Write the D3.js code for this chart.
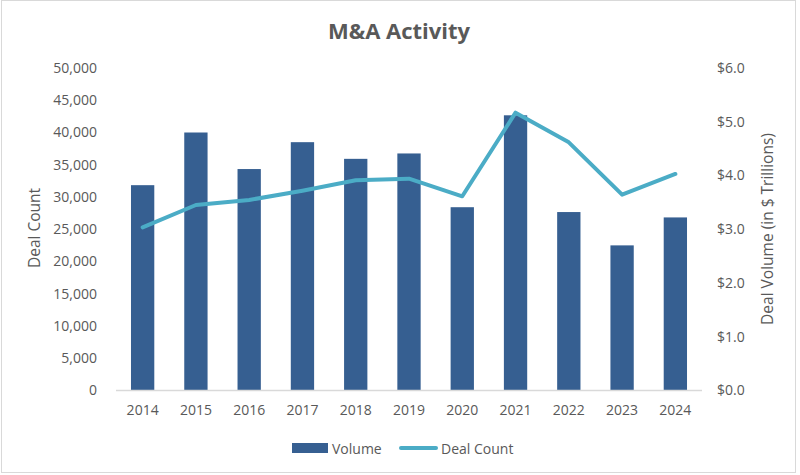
<!DOCTYPE html>
<html>
<head>
<meta charset="utf-8">
<script src="https://cdn.jsdelivr.net/npm/d3@7"></script>
<style>
  html, body { margin: 0; padding: 0; background: #fff; }
  svg { display: block; }
  text { font-family: "Open Sans", sans-serif; fill: #595959; }
</style>
</head>
<body>
<div id="chart"></div>
<script>
const years = ["2014","2015","2016","2017","2018","2019","2020","2021","2022","2023","2024"];
const volume = [3.82, 4.80, 4.12, 4.62, 4.31, 4.41, 3.41, 5.12, 3.32, 2.70, 3.22];
const dealCount = [25300, 28760, 29540, 30980, 32590, 32840, 30110, 43070, 38480, 30360, 33570];
const leftTicks = [0, 5000, 10000, 15000, 20000, 25000, 30000, 35000, 40000, 45000, 50000];
const rightTicks = [0, 1, 2, 3, 4, 5, 6];

const W = 800, H = 475;
const svg = d3.select("#chart").append("svg").attr("width", W).attr("height", H);

svg.append("rect").attr("x", 1.5).attr("y", 0.5).attr("width", 794).attr("height", 472)
  .attr("fill", "#fff").attr("stroke", "#d9d9d9").attr("stroke-width", 1);

const plotL = 116, plotR = 702, plotT = 68, plotB = 390.5;

const x = d3.scaleBand().domain(years).range([plotL, plotR]).paddingInner(0.5625).paddingOuter(0.28125);
const yL = d3.scaleLinear().domain([0, 50000]).range([plotB, plotT]);
const yR = d3.scaleLinear().domain([0, 6]).range([plotB, plotT]);

// bars (Volume, right axis)
svg.append("g").selectAll("rect").data(years).join("rect")
  .attr("x", d => x(d))
  .attr("y", (d, i) => yR(volume[i]))
  .attr("width", x.bandwidth())
  .attr("height", (d, i) => plotB - yR(volume[i]))
  .attr("fill", "#365F91");

// baseline
svg.append("line").attr("x1", plotL).attr("x2", plotR).attr("y1", plotB).attr("y2", plotB)
  .attr("stroke", "#d9d9d9").attr("stroke-width", 1.5);

// line (Deal Count, left axis)
const line = d3.line().x((d, i) => x(years[i]) + x.bandwidth() / 2).y(d => yL(d));
svg.append("path").datum(dealCount).attr("d", line)
  .attr("fill", "none").attr("stroke", "#4BACC6").attr("stroke-width", 4)
  .attr("stroke-linejoin", "round").attr("stroke-linecap", "round");

// left axis
const gL = svg.append("g").attr("transform", `translate(${plotL - 8},0)`)
  .call(d3.axisLeft(yL).tickValues(leftTicks).tickSize(0).tickPadding(11).tickFormat(d3.format(",")));
gL.select(".domain").remove();
gL.selectAll("text").style("font-size", "14px").attr("fill", "#595959").attr("font-family", "Open Sans");

// right axis
const gR = svg.append("g").attr("transform", `translate(${plotR + 4},0)`)
  .call(d3.axisRight(yR).tickValues(rightTicks).tickSize(0).tickPadding(11).tickFormat(d => "$" + d.toFixed(1)));
gR.select(".domain").remove();
gR.selectAll("text").style("font-size", "14px").attr("fill", "#595959").attr("font-family", "Open Sans");

// x axis
const gX = svg.append("g").attr("transform", `translate(0,${plotB})`)
  .call(d3.axisBottom(x).tickSize(0).tickPadding(15));
gX.select(".domain").remove();
gX.selectAll("text").style("font-size", "14px").attr("fill", "#595959").attr("font-family", "Open Sans");

// title
svg.append("text").attr("x", 399).attr("y", 39).attr("text-anchor", "middle")
  .style("font-size", "22px").style("font-weight", "bold").text("M&A Activity");

// axis titles
svg.append("text").attr("transform", "translate(40,228) rotate(-90)").attr("text-anchor", "middle")
  .style("font-size", "15.5px").text("Deal Count");
svg.append("text").attr("transform", "translate(773,229) rotate(-90)").attr("text-anchor", "middle")
  .style("font-size", "15.5px").text("Deal Volume (in $ Trillions)");

// legend
const lg = svg.append("g");
lg.append("rect").attr("x", 292).attr("y", 443).attr("width", 36).attr("height", 10).attr("fill", "#365F91");
lg.append("text").attr("x", 332).attr("y", 448).attr("dominant-baseline", "central").style("font-size", "14px").text("Volume");
lg.append("line").attr("x1", 401).attr("x2", 436).attr("y1", 448).attr("y2", 448)
  .attr("stroke", "#4BACC6").attr("stroke-width", 4).attr("stroke-linecap", "round");
lg.append("text").attr("x", 441).attr("y", 448).attr("dominant-baseline", "central").style("font-size", "14px").text("Deal Count");
</script>
</body>
</html>
